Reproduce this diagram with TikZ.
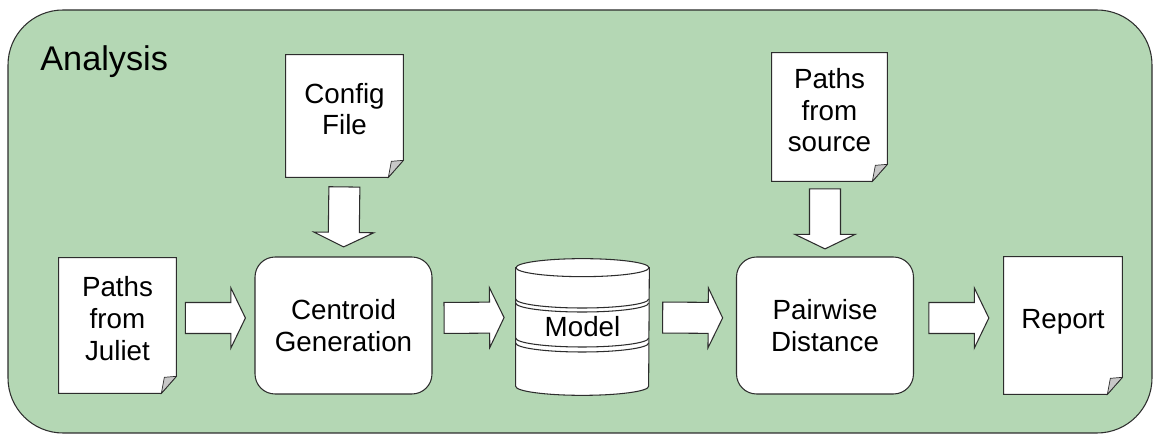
\documentclass[tikz,border=0pt]{standalone}
\usepackage{fontspec}
\setmainfont{Liberation Sans}
\usetikzlibrary{calc,backgrounds}
\definecolor{analysisgreen}{RGB}{180,215,180}
\definecolor{outlinegray}{RGB}{45,45,45}
\definecolor{foldgray}{RGB}{200,200,200}

% block arrow centred between two points
\newcommand{\blockarrow}[2]{%
  \coordinate (mid) at ($(#1)!0.5!(#2)$);
  \coordinate (tail) at ($(mid)!0.6cm!(#1)$);
  \coordinate (tip) at ($(mid)!0.6cm!(#2)$);
  \coordinate (neck) at ($(tip)!0.29cm!(tail)$);
  \draw[flow] ($(tail)!0.31cm!90:(tip)$) -- ($(neck)!0.31cm!-90:(tail)$)
    -- ($(neck)!0.6cm!-90:(tail)$) -- (tip) -- ($(neck)!0.6cm!90:(tail)$)
    -- ($(neck)!0.31cm!90:(tail)$) -- ($(tail)!0.31cm!-90:(tip)$) -- cycle;
}

\begin{document}
\begin{tikzpicture}[
    x=0.02cm, y=-0.02cm,
    every node/.style={font=\fontsize{15.8pt}{18.1pt}\selectfont},
    doc/.style={minimum width=2.34cm, minimum height=2.7cm, align=center, inner sep=0pt, text depth=8pt},
    stepbox/.style={draw=outlinegray, fill=white, line width=0.6pt, rounded corners=0.4cm, minimum width=3.54cm, minimum height=2.74cm, align=center},
    flow/.style={draw=outlinegray, fill=white, line width=0.6pt, line join=miter},
    docline/.style={draw=outlinegray, fill=white, line width=0.6pt},
    foldline/.style={draw=outlinegray, fill=foldgray, line width=0.4pt}
]
\useasboundingbox (0,0) rectangle (1153,435);

% Container
\begin{scope}[on background layer]
\draw[fill=analysisgreen, draw=outlinegray, line width=0.6pt, rounded corners=1.1cm] (8,10) rectangle (1152,433);
\end{scope}
\node[anchor=base west, inner sep=0pt, font=\fontsize{19.5pt}{22pt}\selectfont] (title) at (40,71) {Analysis};

% Documents
\node[doc] (juliet) at (117.5,325.5) {Paths\\from\\Juliet};
\node[doc, minimum height=2.44cm] (config) at (344.5,116) {Config\\File};
\node[doc, minimum height=2.56cm, minimum width=2.3cm] (source) at (829.5,117) {Paths\\from\\source};
\node[doc, minimum width=2.36cm, minimum height=2.74cm] (report) at (1063,325.5) {Report};

\begin{scope}[on background layer]
\foreach \d in {juliet,config,source,report} {
  \draw[docline] (\d.north west) -- (\d.north east) -- ([yshift=0.34cm]\d.south east)
    -- ([xshift=-0.3cm]\d.south east) -- (\d.south west) -- cycle;
  \draw[foldline] ([yshift=0.34cm]\d.south east) -- ([xshift=-0.3cm]\d.south east)
    -- ([xshift=-0.24cm,yshift=0.32cm]\d.south east) -- cycle;
}
\end{scope}

% Processing steps
\node[stepbox] (centroid) at (343.5,325.5) {Centroid\\Generation};
\node[stepbox] (pairwise) at (825,325.5) {Pairwise\\Distance};

% Model store
\node[minimum width=2.66cm, minimum height=2.72cm, inner sep=0pt] (model) at (582.5,327) {Model};
\begin{scope}[on background layer]
\draw[docline] ([yshift=-0.18cm]model.north west) -- ([yshift=0.18cm]model.south west)
  arc[start angle=180, end angle=360, x radius=1.33cm, y radius=0.18cm]
  -- ([yshift=-0.18cm]model.north east) -- cycle;
\draw[docline] ([yshift=-0.18cm]model.north) ellipse[x radius=1.33cm, y radius=0.18cm];
\foreach \s in {0.56cm,0.48cm,-0.22cm,-0.32cm}
  \draw[outlinegray, line width=0.6pt] ([yshift=\s]model.west) arc[start angle=180, end angle=360, x radius=1.33cm, y radius=0.18cm];
\end{scope}

% Flow arrows
\coordinate (sourcefoot) at (pairwise.north |- source.south);
\blockarrow{config.south}{centroid.north}
\blockarrow{sourcefoot}{pairwise.north}
\blockarrow{[yshift=0.15cm]juliet.east}{[yshift=0.15cm]centroid.west}
\blockarrow{[yshift=0.15cm]centroid.east}{[yshift=0.19cm]model.west}
\blockarrow{[yshift=0.19cm]model.east}{[yshift=0.15cm]pairwise.west}
\blockarrow{[yshift=0.15cm]pairwise.east}{[yshift=0.15cm]report.west}

\end{tikzpicture}
\end{document}
